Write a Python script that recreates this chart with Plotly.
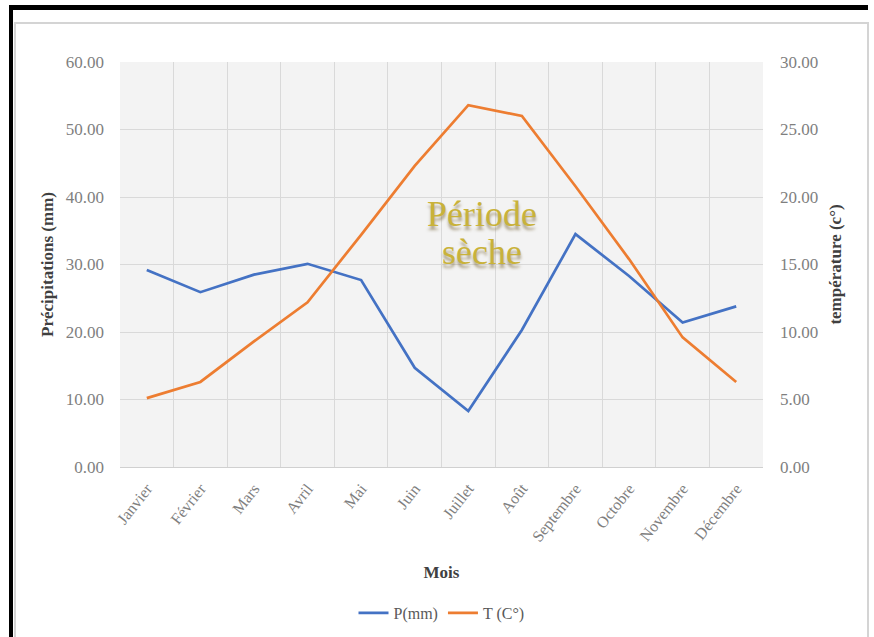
import plotly.graph_objects as go

mois = ["Janvier", "Février", "Mars", "Avril", "Mai", "Juin", "Juillet",
        "Août", "Septembre", "Octobre", "Novembre", "Décembre"]
precip_mm = [29.2, 25.9, 28.5, 30.1, 27.7, 14.7, 8.3, 20.3, 34.5, 28.3, 21.4, 23.8]
temp_c = [5.1, 6.3, 9.3, 12.2, 17.2, 22.3, 26.8, 26.0, 20.8, 15.4, 9.6, 6.3]

y_left_ticks = [0, 10, 20, 30, 40, 50, 60]
y_right_ticks = [0, 5, 10, 15, 20, 25, 30]

W, H = 874, 637
ML, MR, MT, MB = 120, 111, 62, 170
PW, PH = W - ML - MR, H - MT - MB


def px2x(px):
    return (px - ML) / PW


def px2y(py):
    return (H - MB - py) / PH


FONT = "Liberation Serif, Times New Roman, serif"
BLUE = "#4472C4"
ORANGE = "#ED7D31"

fig = go.Figure()
fig.add_trace(go.Scatter(x=mois, y=precip_mm, name="P(mm)", mode="lines",
                         line=dict(color=BLUE, width=2.7), yaxis="y"))
fig.add_trace(go.Scatter(x=mois, y=temp_c, name="T (C°)", mode="lines",
                         line=dict(color=ORANGE, width=2.7), yaxis="y2"))

fig.update_layout(
    width=W, height=H,
    margin=dict(l=ML, r=MR, t=MT, b=MB, autoexpand=False),
    paper_bgcolor="white",
    plot_bgcolor="#f3f3f3",
    font=dict(family=FONT, color="#7f7f7f", size=17),
    showlegend=True,
    legend=dict(orientation="h", x=0.5, xanchor="center",
                yref="container", y=(H - 613) / H, yanchor="middle",
                font=dict(family=FONT, size=16, color="#595959"), bgcolor="rgba(0,0,0,0)"),
    xaxis=dict(
        type="category", categoryorder="array", categoryarray=mois,
        tickson="boundaries", showgrid=True, gridcolor="#d9d9d9", gridwidth=1,
        tickangle=-52, tickfont=dict(family=FONT, size=16, color="#7f7f7f"),
        showline=True, linecolor="#d0d0d0", linewidth=1,
        ticks="", ticklabelstandoff=5, automargin=False,
        title=dict(text="<b>Mois</b>", font=dict(family=FONT, size=17, color="#404040"), standoff=21),
        range=[-0.5, 11.5], fixedrange=True,
    ),
    yaxis=dict(
        range=[0, 60], tickvals=y_left_ticks, tickformat=".2f",
        showgrid=True, gridcolor="#d9d9d9", gridwidth=1, zeroline=False,
        ticks="", ticklabelstandoff=15, automargin=False,
        tickfont=dict(family=FONT, size=17, color="#7f7f7f"),
        title=dict(text="<b>Précipitations (mm)</b>", font=dict(family=FONT, size=17, color="#404040"), standoff=7),
    ),
    yaxis2=dict(
        range=[0, 30], tickvals=y_right_ticks, tickformat=".2f",
        overlaying="y", side="right", showgrid=False, zeroline=False,
        ticks="", ticklabelstandoff=16, automargin=False,
        tickfont=dict(family=FONT, size=17, color="#7f7f7f"),
        title=dict(text="<b>température (c°)</b>", font=dict(family=FONT, size=17, color="#404040"), standoff=11),
    ),
)

# Dry period label
for txt, ypx in (("Période", 214), ("sèche", 252)):
    fig.add_annotation(
        text=txt, xref="paper", yref="paper", x=px2x(482), y=px2y(ypx),
        xanchor="center", yanchor="middle", showarrow=False,
        font=dict(family=FONT, size=36, color="#c9b23a",
                  shadow="0px 4px 3px rgba(110,90,40,0.55)"),
    )

# Frame decorations
fig.add_shape(type="rect", xref="paper", yref="paper",
              x0=px2x(15), x1=px2x(868), y0=px2y(23), y1=px2y(660),
              line=dict(color="#d4d4d4", width=2), fillcolor="rgba(0,0,0,0)", layer="below")
fig.add_shape(type="rect", xref="paper", yref="paper",
              x0=px2x(9), x1=px2x(868), y0=px2y(5), y1=px2y(10),
              line=dict(width=0), fillcolor="black")
fig.add_shape(type="rect", xref="paper", yref="paper",
              x0=px2x(9), x1=px2x(13), y0=px2y(5), y1=px2y(660),
              line=dict(width=0), fillcolor="black")

fig.write_html("out.html")
